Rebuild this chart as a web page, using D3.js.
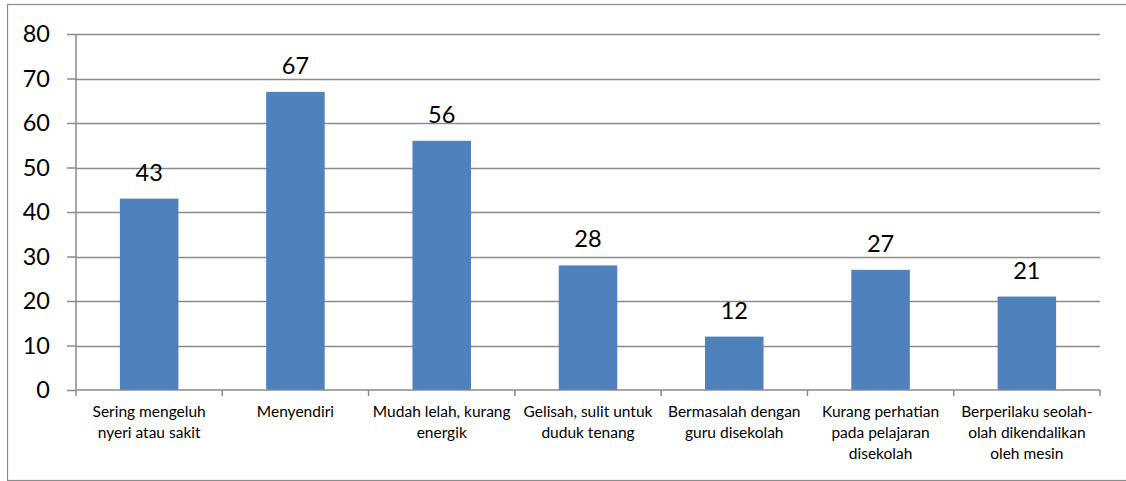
<!DOCTYPE html>
<html>
<head>
<meta charset="utf-8">
<script src="https://cdn.jsdelivr.net/npm/d3@7"></script>
<style>
  body { margin: 0; background: #fff; }
  svg { display: block; }
  text { font-family: Lato, "Open Sans", sans-serif; fill: #000; }
</style>
</head>
<body>
<svg id="chart" width="1126" height="481"></svg>
<script>
var categories = [
  ["Sering mengeluh", "nyeri atau sakit"],
  ["Menyendiri"],
  ["Mudah lelah, kurang", "energik"],
  ["Gelisah, sulit untuk", "duduk tenang"],
  ["Bermasalah dengan", "guru disekolah"],
  ["Kurang perhatian", "pada pelajaran", "disekolah"],
  ["Berperilaku seolah-", "olah dikendalikan", "oleh mesin"]
];
var values = [43, 67, 56, 28, 12, 27, 21];
var yTicks = [0, 10, 20, 30, 40, 50, 60, 70, 80];

var width = 1126;
var height = 481;
var plotLeft = 76, plotRight = 1100, plotTop = 34, plotBottom = 390;

var svg = d3.select("#chart");

// outer frame
svg.append("rect")
  .attr("x", 7.5).attr("y", 4.5)
  .attr("width", width + 10).attr("height", 476)
  .attr("fill", "none")
  .attr("stroke", "#8c8c8c")
  .attr("stroke-width", 1.2);

var keys = categories.map(function(d, i) { return i; });

var xScale = d3.scaleBand()
  .domain(keys)
  .range([plotLeft, plotRight])
  .paddingInner(0.6)
  .paddingOuter(0.3);

var yScale = d3.scaleLinear()
  .domain([0, 80])
  .range([plotBottom, plotTop]);

// gridlines
svg.append("g")
  .selectAll("line")
  .data(yTicks.filter(function(d) { return d > 0; }))
  .enter().append("line")
  .attr("x1", plotLeft).attr("x2", plotRight)
  .attr("y1", function(d) { return Math.round(yScale(d)) + 0.5; })
  .attr("y2", function(d) { return Math.round(yScale(d)) + 0.5; })
  .attr("stroke", "#8a8a8a")
  .attr("stroke-width", 1.5);

// bars
svg.append("g")
  .selectAll("rect")
  .data(values)
  .enter().append("rect")
  .attr("x", function(d, i) { return xScale(i); })
  .attr("y", function(d) { return yScale(d); })
  .attr("width", xScale.bandwidth())
  .attr("height", function(d) { return yScale(0) - yScale(d); })
  .attr("fill", "#4f81bd");

// data labels
svg.append("g")
  .selectAll("text")
  .data(values)
  .enter().append("text")
  .attr("x", function(d, i) { return xScale(i) + xScale.bandwidth() / 2; })
  .attr("y", function(d) { return yScale(d) - 18; })
  .attr("text-anchor", "middle")
  .style("font-size", "23.5px")
  .text(function(d) { return d; });

// y axis
var yAxis = svg.append("g")
  .attr("transform", "translate(" + plotLeft + ",0)")
  .call(d3.axisLeft(yScale).tickValues(yTicks).tickSize(9).tickPadding(17));
yAxis.selectAll("path, line").attr("stroke", "#8a8a8a").attr("stroke-width", 1.5);
yAxis.select(".domain").attr("d", "M0," + plotTop + "V" + plotBottom);
yAxis.selectAll("text")
  .style("font-size", "23.5px")
  .style("font-family", "Lato, sans-serif")
  .attr("fill", "#000");

// x axis: boundary ticks
var edges = d3.range(categories.length + 1).map(function(i) {
  return plotLeft + i * (plotRight - plotLeft) / categories.length;
});
var xAxis = svg.append("g");
xAxis.append("line")
  .attr("x1", plotLeft).attr("x2", plotRight)
  .attr("y1", plotBottom).attr("y2", plotBottom)
  .attr("stroke", "#8a8a8a").attr("stroke-width", 1.5);
xAxis.selectAll(".edge")
  .data(edges)
  .enter().append("line")
  .attr("x1", function(d) { return d; }).attr("x2", function(d) { return d; })
  .attr("y1", plotBottom).attr("y2", plotBottom + 6)
  .attr("stroke", "#8a8a8a").attr("stroke-width", 1.5);

// category labels
var catText = svg.append("g")
  .selectAll("text")
  .data(categories)
  .enter().append("text")
  .attr("x", function(d, i) { return xScale(i) + xScale.bandwidth() / 2; })
  .attr("y", 417)
  .attr("text-anchor", "middle")
  .style("font-size", "15.5px");

catText.selectAll("tspan")
  .data(function(d) { return d; })
  .enter().append("tspan")
  .attr("x", function() { return d3.select(this.parentNode).attr("x"); })
  .attr("dy", function(d, i) { return i === 0 ? 0 : 21; })
  .text(function(d) { return d; });
</script>
</body>
</html>
